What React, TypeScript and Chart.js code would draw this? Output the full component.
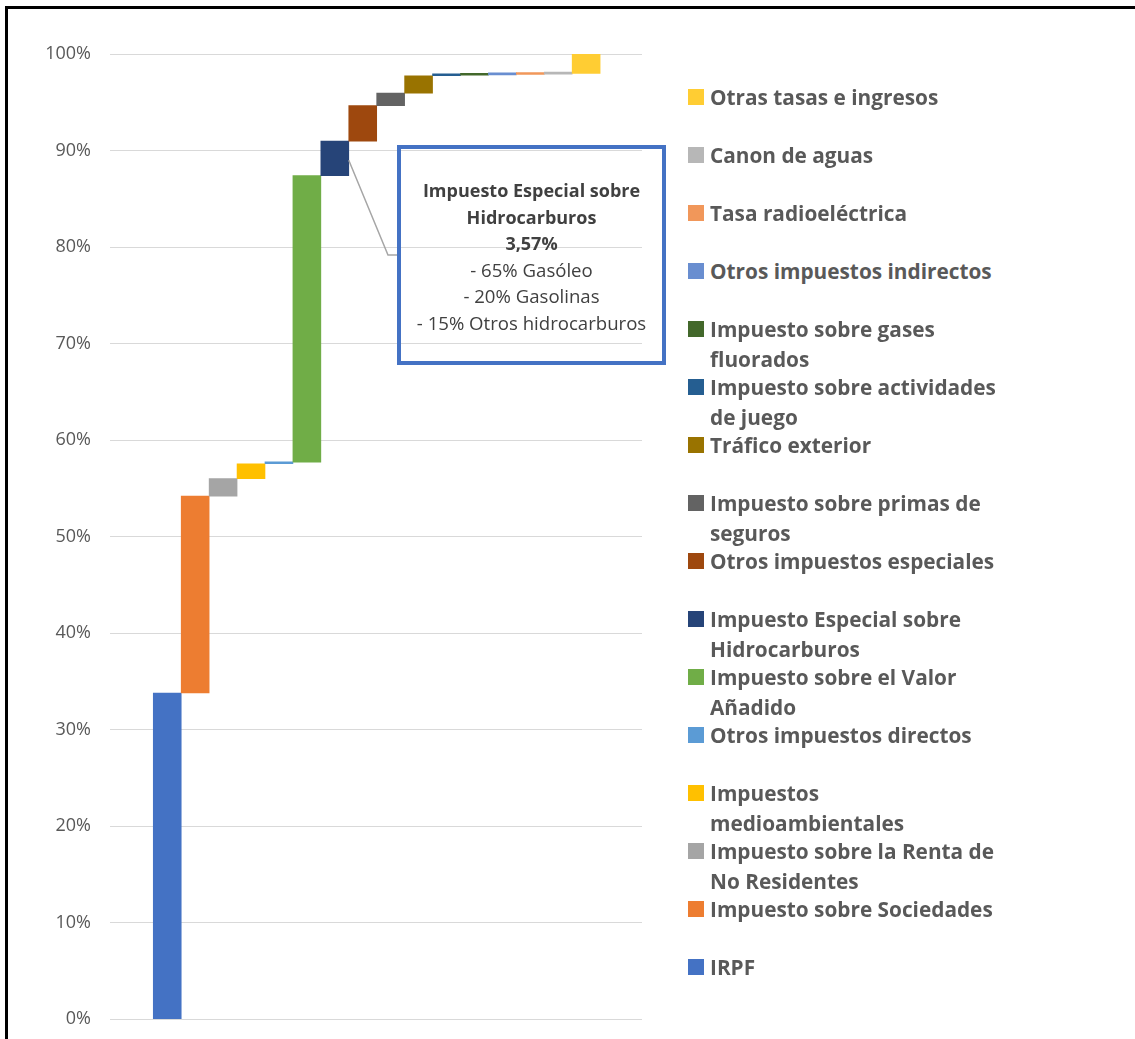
import React, { useEffect, useRef } from "react";
import { Chart, registerables } from "chart.js";

Chart.register(...registerables);

// ---- Data ----
const categories: string[] = [
  "IRPF",
  "Impuesto sobre Sociedades",
  "Impuesto sobre la Renta de\nNo Residentes",
  "Impuestos\nmedioambientales",
  "Otros impuestos directos",
  "Impuesto sobre el Valor\nAñadido",
  "Impuesto Especial sobre\nHidrocarburos",
  "Otros impuestos especiales",
  "Impuesto sobre primas de\nseguros",
  "Tráfico exterior",
  "Impuesto sobre actividades\nde juego",
  "Impuesto sobre gases\nfluorados",
  "Otros impuestos indirectos",
  "Tasa radioeléctrica",
  "Canon de aguas",
  "Otras tasas e ingresos",
];

// cumulative start / end of each floating bar, in %
const barStarts: number[] = [0, 33.8, 54.2, 56.0, 57.55, 57.7, 87.4, 90.97, 94.65, 95.95, 97.75, 97.8, 97.83, 97.88, 97.92, 98.0];
const barEnds: number[] = [33.8, 54.2, 56.0, 57.55, 57.7, 87.4, 90.97, 94.65, 95.95, 97.75, 97.8, 97.83, 97.88, 97.92, 98.0, 100];

const barColors: string[] = [
  "#4472C4", "#ED7D31", "#A5A5A5", "#FFC000", "#5B9BD5", "#70AD47",
  "#264478", "#9E480E", "#636363", "#997300", "#255E91", "#43682B",
  "#698ED0", "#F1975A", "#B7B7B7", "#FFCD33",
];

const yTickValues: number[] = [0, 10, 20, 30, 40, 50, 60, 70, 80, 90, 100];

const calloutCategory = 6; // Impuesto Especial sobre Hidrocarburos
const calloutAnchorValue = 89.0;
const calloutTitle: string[] = ["Impuesto Especial sobre", "Hidrocarburos", "3,57%"];
const calloutLines: string[] = ["- 65% Gasóleo", "- 20% Gasolinas", "- 15% Otros hidrocarburos"];

const FONT = "'Open Sans', sans-serif";

export default function App() {
  const canvasRef = useRef<HTMLCanvasElement | null>(null);

  useEffect(() => {
    if (!canvasRef.current) return;
    const leaderLine = {
      id: "leaderLine",
      afterDraw(chart: any) {
        const ctx = chart.ctx;
        const xs = chart.scales.x;
        const ys = chart.scales.y;
        const x0 = xs.getPixelForValue(calloutCategory + 0.5);
        const y0 = ys.getPixelForValue(calloutAnchorValue);
        ctx.save();
        ctx.strokeStyle = "#A6A6A6";
        ctx.lineWidth = 1.5;
        ctx.beginPath();
        ctx.moveTo(x0, y0);
        ctx.lineTo(388, 255);
        ctx.lineTo(398, 255);
        ctx.stroke();
        ctx.restore();
      },
    };

    const chart = new Chart(canvasRef.current, {
      type: "bar",
      data: {
        datasets: [
          {
            label: "Recaudación",
            data: categories.map((_, i) => ({ x: i, y: [barStarts[i], barEnds[i]] })) as any,
            backgroundColor: barColors,
            borderWidth: 0,
            barPercentage: 1,
            categoryPercentage: 1,
            minBarLength: 2,
          },
        ],
      },
      options: {
        responsive: false,
        animation: false,
        devicePixelRatio: 1,
        layout: { padding: { left: 0, top: 54, right: 58, bottom: 10 } },
        plugins: { legend: { display: false }, tooltip: { enabled: false } },
        scales: {
          x: {
            type: "linear",
            min: -2.05,
            max: 17.0,
            offset: false,
            display: false,
          },
          y: {
            min: 0,
            max: 100,
            border: { display: false },
            grid: { color: "#D9D9D9", lineWidth: 1, drawTicks: false },
            afterFit(scale: any) {
              scale.width = 110;
            },
            afterBuildTicks(scale: any) {
              scale.ticks = yTickValues.map((v) => ({ value: v }));
            },
            ticks: {
              padding: 19,
              color: "#595959",
              font: { family: "'Open Sans'", size: 18 },
              callback: (v: any) => v + "%",
            },
          },
        },
      },
      plugins: [leaderLine],
    });
    return () => chart.destroy();
  }, []);

  const legendItems = categories.map((c, i) => ({ label: c, color: barColors[i] })).reverse();

  return (
    <div
      style={{
        position: "absolute",
        left: 0,
        top: 0,
        width: 1135,
        height: 1039,
        overflow: "hidden",
        background: "#fff",
        fontFamily: FONT,
      }}
    >
      <div
        style={{
          position: "absolute",
          left: 5,
          top: 6,
          width: 1300,
          height: 1300,
          borderLeft: "3px solid #000",
          borderTop: "3px solid #000",
        }}
      />
      <canvas
        ref={canvasRef}
        width={700}
        height={1049}
        style={{ position: "absolute", left: 0, top: 0, width: 700, height: 1049 }}
      />
      {/* callout box */}
      <div
        style={{
          position: "absolute",
          left: 397,
          top: 145,
          width: 269,
          height: 220,
          boxSizing: "border-box",
          border: "4px solid #4472C4",
          color: "#404040",
          lineHeight: "26.5px",
          textAlign: "center",
          paddingTop: 28,
          whiteSpace: "nowrap",
        }}
      >
        {calloutTitle.map((t, i) => (
          <div key={"t" + i} style={{ fontWeight: 700, fontSize: 18 }}>{t}</div>
        ))}
        {calloutLines.map((t, i) => (
          <div key={"l" + i} style={{ fontSize: 18.6 }}>{t}</div>
        ))}
      </div>
      {/* legend */}
      {legendItems.map((it, i) => (
        <div key={i}>
          <div
            style={{
              position: "absolute",
              left: 688,
              top: 89 + 58 * i,
              width: 16,
              height: 16,
              background: it.color,
            }}
          />
          <div
            style={{
              position: "absolute",
              left: 710,
              top: 82 + 58 * i,
              whiteSpace: "pre",
              fontSize: 20.8,
              lineHeight: "30px",
              fontWeight: 700,
              color: "#595959",
            }}
          >
            {it.label}
          </div>
        </div>
      ))}
    </div>
  );
}
